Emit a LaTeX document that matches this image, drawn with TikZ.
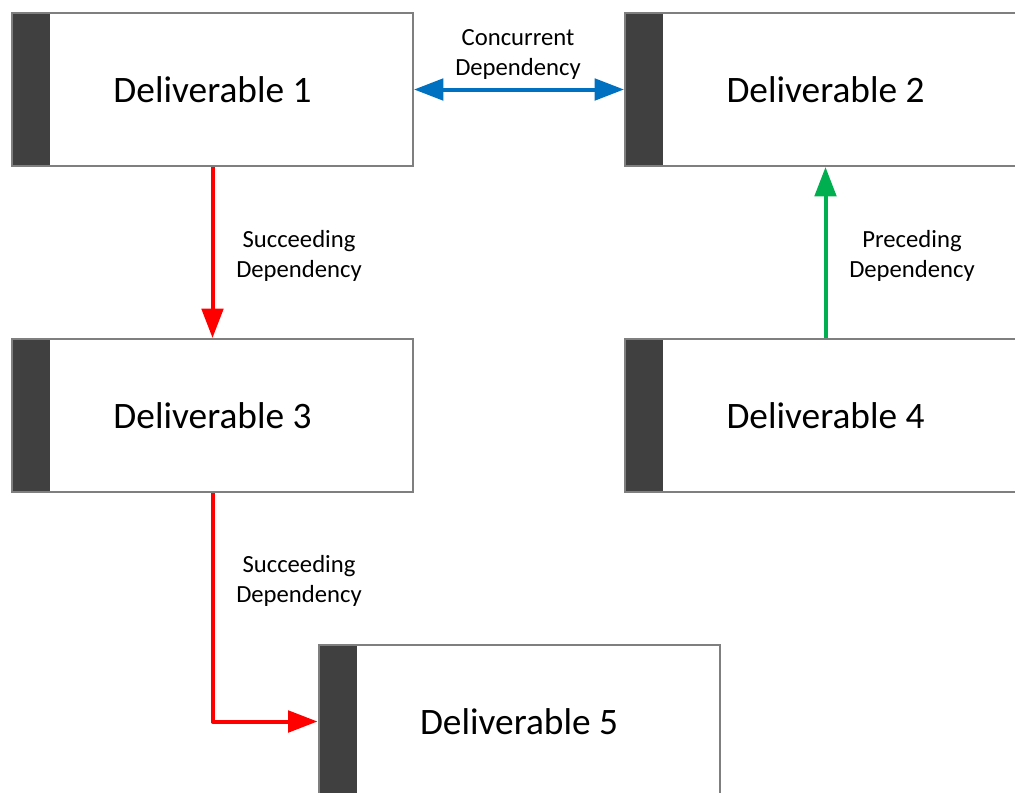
\documentclass[tikz,border=0pt]{standalone}
\usepackage{fontspec}
\setmainfont{Carlito}
\usetikzlibrary{arrows.meta}

\definecolor{barcol}{HTML}{404040}
\definecolor{edgecol}{HTML}{7F7F7F}
\definecolor{concol}{HTML}{0070C0}
\definecolor{succol}{HTML}{FF0000}
\definecolor{precol}{HTML}{00B050}

\tikzset{
  deliv/.style={draw=edgecol, line width=1.5pt, fill=white,
    minimum width=300.75pt, minimum height=114.75pt, inner sep=0pt,
    font=\fontsize{28}{32}\selectfont,
    path picture={\fill[barcol] (path picture bounding box.north west)
      rectangle ([xshift=28.5pt]path picture bounding box.south west);}},
  dep/.style={line width=3pt, -{Triangle[length=22pt,width=16pt]}},
  deplabel/.style={align=center, font=\fontsize{18.5}{22.5}\selectfont}
}

\begin{document}
\begin{tikzpicture}[x=0.75pt,y=-0.75pt]
  \useasboundingbox (0,0) rectangle (1015,793);
  \clip (0,0) rectangle (1015,793);

  % deliverables
  \node[deliv] (d1) at (212.5,89.5) {Deliverable 1};
  \node[deliv] (d2) at (825.5,89.5) {Deliverable 2};
  \node[deliv] (d3) at (212.5,415.5) {Deliverable 3};
  \node[deliv] (d4) at (825.5,415.5) {Deliverable 4};
  \node[deliv] (d5) at (519,721.5) {Deliverable 5};

  % dependencies
  \draw[dep, concol, {Triangle[length=22pt,width=16pt]}-{Triangle[length=22pt,width=16pt]}]
    (d1.east) -- (d2.west);
  \draw[dep, succol] (d1.south) -- (d3.north);
  \draw[dep, succol, line join=round] (d3.south) |- (d5.west);
  \draw[dep, precol] (d4.north) -- (d2.south);

  \node[deplabel] (lcon) at (518,54) {Concurrent\\Dependency};
  \node[deplabel] (lsuc1) at (299,256) {Succeeding\\Dependency};
  \node[deplabel] (lpre) at (912,256) {Preceding\\Dependency};
  \node[deplabel] (lsuc2) at (299,581) {Succeeding\\Dependency};
\end{tikzpicture}
\end{document}
